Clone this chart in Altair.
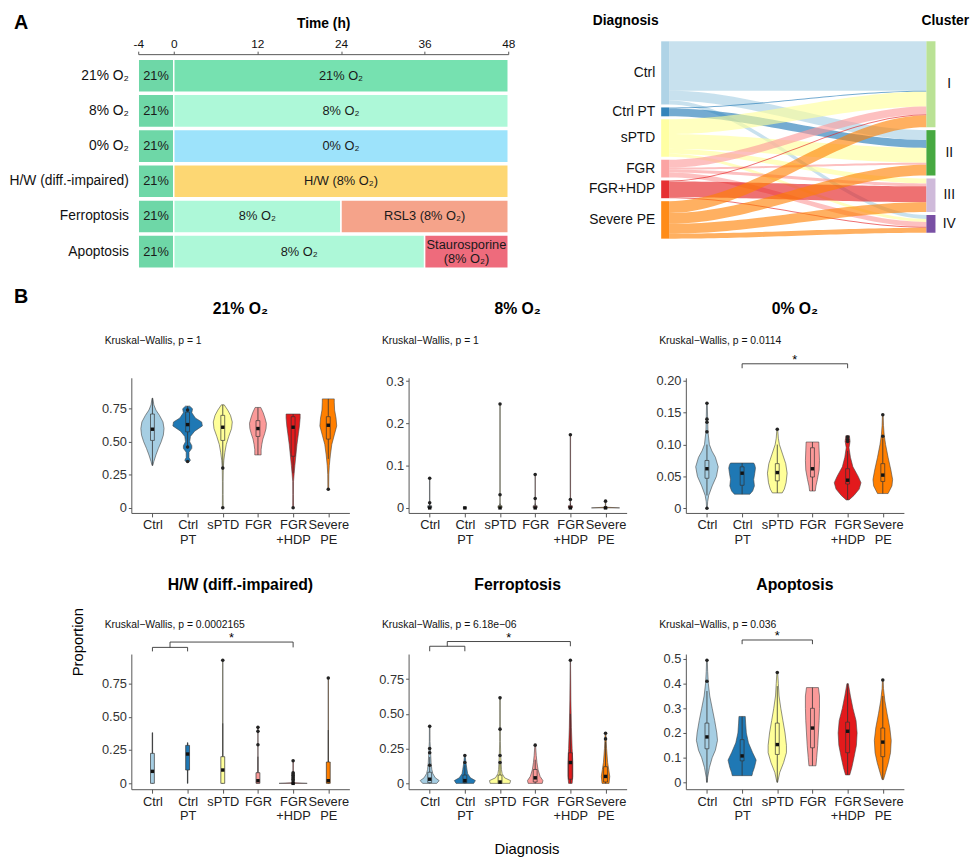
import altair as alt
import pandas as pd
import numpy as np

FONT = "Liberation Sans"

# ---------------- Panel A (left): time course ----------------
ROWS = ["21% O₂", "8% O₂", "0% O₂", "H/W (diff.-impaired)", "Ferroptosis", "Apoptosis"]
SEG_ROW = ["21% O₂", "21% O₂", "8% O₂", "8% O₂", "0% O₂", "0% O₂",
           "H/W (diff.-impaired)", "H/W (diff.-impaired)",
           "Ferroptosis", "Ferroptosis", "Ferroptosis",
           "Apoptosis", "Apoptosis", "Apoptosis"]
SEG_START = [-4, 0, -4, 0, -4, 0, -4, 0, -4, 0, 24, -4, 0, 36]
SEG_END = [0, 48, 0, 48, 0, 48, 0, 48, 0, 24, 48, 0, 36, 48]
SEG_LABEL = ["21%", "21% O₂", "21%", "8% O₂", "21%", "0% O₂", "21%", "H/W (8% O₂)",
             "21%", "8% O₂", "RSL3 (8% O₂)", "21%", "8% O₂", "Staurosporine\n(8% O₂)"]
SEG_KIND = ["pre", "21%", "pre", "8%", "pre", "0%", "pre", "HW",
            "pre", "8%", "RSL3", "pre", "8%", "Stauro"]
KINDS = ["pre", "21%", "8%", "0%", "HW", "RSL3", "Stauro"]
KIND_COLORS = ["#6ed7a7", "#76e1b0", "#adf8d8", "#9de3fb", "#fdd773", "#f5a38a", "#ee6b7c"]
TIME_TICKS = [-4, 0, 12, 24, 36, 48]

# ---------------- Panel A (right): alluvial ----------------
DIAG = ["Ctrl", "Ctrl PT", "sPTD", "FGR", "FGR+HDP", "Severe PE"]
DIAG_COLORS = ["#a6cee3", "#1f78b4", "#ffff99", "#fb9a99", "#e31a1c", "#ff7f00"]
CLUSTERS = ["I", "II", "III", "IV"]
CLUSTER_COLORS = ["#b2df8a", "#33a02c", "#cab2d6", "#6a3d9a"]
FLOW_SRC = ["Ctrl", "Ctrl", "Ctrl",
            "Ctrl PT", "Ctrl PT",
            "sPTD", "sPTD", "sPTD", "sPTD",
            "FGR", "FGR", "FGR", "FGR",
            "FGR+HDP", "FGR+HDP", "FGR+HDP",
            "Severe PE", "Severe PE", "Severe PE", "Severe PE"]
FLOW_DST = ["I", "II", "IV",
            "I", "II",
            "I", "II", "III", "IV",
            "I", "II", "III", "IV",
            "I", "III", "IV",
            "I", "II", "III", "IV"]
FLOW_N = [50, 10, 4,
          1, 8,
          15, 15, 5, 3,
          8, 2, 3, 5,
          1, 16, 1,
          12, 11, 10, 5]

# ---------------- Panel B: violins ----------------
GROUPS = ["Ctrl", "Ctrl PT", "sPTD", "FGR", "FGR+HDP", "Severe PE"]
GROUP_COLORS = ["#a6cee3", "#1f78b4", "#ffff99", "#fb9a99", "#e31a1c", "#ff7f00"]
GROUP_TICK_LINES = [["Ctrl"], ["Ctrl", "PT"], ["sPTD"], ["FGR"], ["FGR", "+HDP"], ["Severe", "PE"]]

# violin outlines: (value, half-width in category units)
V21 = {
    "Ctrl": [(0.32, 0.01), (0.35, 0.04), (0.40, 0.10), (0.45, 0.17), (0.50, 0.25), (0.55, 0.31),
             (0.60, 0.33), (0.65, 0.30), (0.70, 0.20), (0.74, 0.10), (0.78, 0.04), (0.83, 0.01)],
    "Ctrl PT": [(0.35, 0.05), (0.36, 0.08), (0.38, 0.04), (0.42, 0.04), (0.45, 0.12), (0.47, 0.12),
                (0.50, 0.06), (0.54, 0.08), (0.58, 0.20), (0.62, 0.42), (0.65, 0.40), (0.68, 0.22),
                (0.72, 0.12), (0.75, 0.14), (0.77, 0.06)],
    "sPTD": [(0.0, 0.012), (0.1, 0.01), (0.2, 0.01), (0.30, 0.015), (0.36, 0.03), (0.42, 0.06),
             (0.48, 0.10), (0.54, 0.17), (0.60, 0.25), (0.65, 0.27), (0.70, 0.22), (0.74, 0.14), (0.78, 0.04)],
    "FGR": [(0.40, 0.09), (0.44, 0.09), (0.48, 0.11), (0.52, 0.14), (0.56, 0.19), (0.60, 0.23),
            (0.64, 0.24), (0.68, 0.20), (0.72, 0.15), (0.76, 0.08)],
    "FGR+HDP": [(0.0, 0.012), (0.1, 0.01), (0.2, 0.012), (0.26, 0.03), (0.32, 0.05), (0.40, 0.08),
                (0.48, 0.11), (0.56, 0.15), (0.62, 0.18), (0.68, 0.20), (0.71, 0.20)],
    "Severe PE": [(0.14, 0.012), (0.25, 0.015), (0.32, 0.03), (0.40, 0.06), (0.48, 0.10), (0.55, 0.17),
                  (0.62, 0.24), (0.68, 0.22), (0.74, 0.18), (0.80, 0.17), (0.825, 0.17)],
}
V8 = {
    "Ctrl": [(0.0, 0.006), (0.07, 0.006)],
    "Ctrl PT": [],
    "sPTD": [(0.0, 0.006), (0.246, 0.006)],
    "FGR": [(0.0, 0.006), (0.079, 0.006)],
    "FGR+HDP": [(0.0, 0.006), (0.173, 0.006)],
    "Severe PE": [(0.0, 0.40), (0.0015, 0.05), (0.004, 0.006), (0.016, 0.006)],
}
V0 = {
    "Ctrl": [(0.0, 0.01), (0.01, 0.02), (0.02, 0.05), (0.035, 0.15), (0.05, 0.27), (0.065, 0.32),
             (0.08, 0.24), (0.09, 0.14), (0.10, 0.07), (0.12, 0.03), (0.14, 0.02), (0.165, 0.01)],
    "Ctrl PT": [(0.022, 0.22), (0.027, 0.30), (0.035, 0.35), (0.045, 0.33), (0.055, 0.36),
                (0.063, 0.38), (0.068, 0.36), (0.071, 0.33)],
    "sPTD": [(0.024, 0.14), (0.03, 0.20), (0.04, 0.25), (0.055, 0.28), (0.07, 0.24), (0.085, 0.15),
             (0.10, 0.06), (0.11, 0.03), (0.125, 0.01)],
    "FGR": [(0.027, 0.08), (0.035, 0.10), (0.045, 0.14), (0.06, 0.19), (0.075, 0.20), (0.09, 0.19), (0.104, 0.18)],
    "FGR+HDP": [(0.013, 0.04), (0.02, 0.18), (0.03, 0.33), (0.04, 0.38), (0.05, 0.30), (0.065, 0.15),
                (0.08, 0.08), (0.095, 0.04), (0.105, 0.07), (0.114, 0.05)],
    "Severe PE": [(0.023, 0.15), (0.035, 0.26), (0.045, 0.28), (0.06, 0.23), (0.08, 0.15), (0.10, 0.08),
                  (0.115, 0.04), (0.13, 0.02), (0.147, 0.01)],
}
VHW = {
    "Ctrl": [(0.0, 0.006), (0.38, 0.006)],
    "Ctrl PT": [(0.0, 0.006), (0.305, 0.006)],
    "sPTD": [(0.0, 0.006), (0.924, 0.006)],
    "FGR": [(0.0, 0.006), (0.42, 0.006)],
    "FGR+HDP": [(0.0, 0.40), (0.004, 0.05), (0.01, 0.006), (0.17, 0.006)],
    "Severe PE": [(0.0, 0.006), (0.79, 0.006)],
}
VFER = {
    "Ctrl": [(0.0, 0.20), (0.02, 0.27), (0.04, 0.16), (0.07, 0.09), (0.1, 0.06), (0.15, 0.04),
             (0.2, 0.03), (0.25, 0.02), (0.3, 0.01), (0.41, 0.008)],
    "Ctrl PT": [(0.0, 0.25), (0.02, 0.30), (0.04, 0.16), (0.07, 0.08), (0.1, 0.06), (0.15, 0.03), (0.2, 0.01)],
    "sPTD": [(0.0, 0.28), (0.02, 0.30), (0.04, 0.13), (0.07, 0.06), (0.1, 0.04), (0.15, 0.03),
             (0.2, 0.02), (0.3, 0.01), (0.615, 0.008)],
    "FGR": [(0.0, 0.20), (0.02, 0.22), (0.05, 0.14), (0.1, 0.08), (0.15, 0.05), (0.2, 0.03), (0.275, 0.01)],
    "FGR+HDP": [(0.0, 0.05), (0.05, 0.07), (0.15, 0.07), (0.25, 0.05), (0.4, 0.03), (0.6, 0.015), (0.885, 0.005)],
    "Severe PE": [(0.0, 0.10), (0.05, 0.12), (0.1, 0.09), (0.15, 0.06), (0.25, 0.03), (0.36, 0.01)],
}
VAPO = {
    "Ctrl": [(0.0, 0.01), (0.02, 0.02), (0.06, 0.07), (0.10, 0.15), (0.13, 0.24), (0.17, 0.30),
             (0.20, 0.28), (0.25, 0.22), (0.30, 0.15), (0.35, 0.08), (0.40, 0.04), (0.45, 0.02), (0.495, 0.01)],
    "Ctrl PT": [(0.027, 0.28), (0.04, 0.30), (0.06, 0.35), (0.09, 0.40), (0.12, 0.30), (0.16, 0.18),
                (0.20, 0.12), (0.24, 0.10), (0.267, 0.09)],
    "sPTD": [(0.0, 0.01), (0.04, 0.07), (0.08, 0.18), (0.12, 0.26), (0.15, 0.26), (0.20, 0.22),
             (0.25, 0.16), (0.30, 0.10), (0.35, 0.05), (0.40, 0.03), (0.447, 0.01)],
    "FGR": [(0.067, 0.10), (0.10, 0.12), (0.15, 0.15), (0.20, 0.17), (0.25, 0.19), (0.30, 0.20),
            (0.35, 0.20), (0.384, 0.17)],
    "FGR+HDP": [(0.03, 0.06), (0.06, 0.12), (0.10, 0.18), (0.15, 0.25), (0.20, 0.27), (0.25, 0.24),
                (0.30, 0.15), (0.35, 0.08), (0.40, 0.02)],
    "Severe PE": [(0.011, 0.02), (0.04, 0.08), (0.08, 0.16), (0.12, 0.22), (0.17, 0.24), (0.22, 0.20),
                  (0.28, 0.12), (0.33, 0.06), (0.38, 0.02), (0.417, 0.01)],
}

# box stats: (lower whisker, q1, median, q3, upper whisker)
B21 = {"Ctrl": (0.32, 0.51, 0.595, 0.71, 0.83), "Ctrl PT": (0.45, 0.575, 0.63, 0.725, 0.77),
       "sPTD": (0.30, 0.51, 0.61, 0.70, 0.78), "FGR": (0.40, 0.54, 0.60, 0.66, 0.76),
       "FGR+HDP": (0.26, 0.39, 0.61, 0.69, 0.71), "Severe PE": (0.37, 0.52, 0.625, 0.69, 0.825)}
B8 = {"Ctrl": (0, 0, 0, 0.005, 0.01), "Ctrl PT": (0, 0, 0, 0, 0), "sPTD": (0, 0, 0, 0.005, 0.01),
      "FGR": (0, 0, 0, 0.005, 0.01), "FGR+HDP": (0, 0, 0, 0.005, 0.01), "Severe PE": (0, 0, 0, 0, 0)}
B0 = {"Ctrl": (0.02, 0.047, 0.062, 0.075, 0.10), "Ctrl PT": (0.022, 0.036, 0.055, 0.065, 0.071),
      "sPTD": (0.024, 0.043, 0.056, 0.07, 0.10), "FGR": (0.027, 0.049, 0.062, 0.095, 0.104),
      "FGR+HDP": (0.013, 0.038, 0.044, 0.062, 0.09), "Severe PE": (0.023, 0.042, 0.052, 0.07, 0.11)}
BHW = {"Ctrl": (0, 0, 0.09, 0.225, 0.38), "Ctrl PT": (0, 0.10, 0.22, 0.285, 0.305),
       "sPTD": (0, 0, 0.10, 0.20, 0.45), "FGR": (0, 0, 0.02, 0.08, 0.20),
       "FGR+HDP": (0, 0, 0, 0, 0), "Severe PE": (0, 0, 0.02, 0.16, 0.40)}
BFER = {"Ctrl": (0, 0.005, 0.03, 0.08, 0.19), "Ctrl PT": (0, 0.005, 0.02, 0.06, 0.13),
        "sPTD": (0, 0.0, 0.01, 0.06, 0.14), "FGR": (0, 0.01, 0.04, 0.10, 0.17),
        "FGR+HDP": (0, 0.03, 0.15, 0.22, 0.50), "Severe PE": (0, 0.01, 0.05, 0.12, 0.30)}
BAPO = {"Ctrl": (0.0, 0.136, 0.184, 0.24, 0.37), "Ctrl PT": (0.027, 0.087, 0.107, 0.173, 0.267),
        "sPTD": (0.0, 0.113, 0.153, 0.24, 0.39), "FGR": (0.067, 0.14, 0.22, 0.30, 0.384),
        "FGR+HDP": (0.03, 0.12, 0.207, 0.244, 0.40), "Severe PE": (0.011, 0.104, 0.163, 0.22, 0.35)}

# outlying points
O21 = {"Ctrl": [], "Ctrl PT": [0.74, 0.46, 0.35], "sPTD": [0.30, 0.0], "FGR": [], "FGR+HDP": [0.0], "Severe PE": [0.14]}
O8 = {"Ctrl": [0.07, 0.012], "Ctrl PT": [], "sPTD": [0.246, 0.031], "FGR": [0.079, 0.022],
      "FGR+HDP": [0.173, 0.02], "Severe PE": [0.016]}
O0 = {"Ctrl": [0.165, 0.14, 0.135, 0.12, 0.0], "Ctrl PT": [], "sPTD": [0.124], "FGR": [],
      "FGR+HDP": [0.112, 0.108, 0.105], "Severe PE": [0.147, 0.113]}
OHW = {"Ctrl": [], "Ctrl PT": [], "sPTD": [0.924], "FGR": [0.42, 0.39, 0.29],
       "FGR+HDP": [0.17, 0.08, 0.07, 0.06, 0.05, 0.04, 0.03, 0.02], "Severe PE": [0.79]}
OFER = {"Ctrl": [0.41, 0.25, 0.22, 0.13], "Ctrl PT": [0.20, 0.15], "sPTD": [0.615, 0.39, 0.20, 0.15],
        "FGR": [0.275], "FGR+HDP": [0.885], "Severe PE": [0.36, 0.32]}
OAPO = {"Ctrl": [0.495, 0.41], "Ctrl PT": [], "sPTD": [0.445], "FGR": [], "FGR+HDP": [], "Severe PE": [0.415]}

# significance brackets: (x from, x to, y, drop)
K0 = [(2, 5, 0.227, 0.007)]
KHW = [(1, 2, 1.02, 0.03), (1.5, 5, 1.06, 0.04)]
KFER = [(1, 2, 0.986, 0.036), (1.5, 5, 1.02, 0.034)]
KAPO = [(2, 4, 0.577, 0.017)]

PANELS = [
    dict(title="21% O₂", kw="Kruskal−Wallis, p = 1", prof=V21, box=B21, pts=O21, br=[],
         yt=[0, 0.25, 0.5, 0.75], dec=2, dom=[-0.04, 0.985]),
    dict(title="8% O₂", kw="Kruskal−Wallis, p = 1", prof=V8, box=B8, pts=O8, br=[],
         yt=[0, 0.1, 0.2, 0.3], dec=1, dom=[-0.012, 0.308]),
    dict(title="0% O₂", kw="Kruskal−Wallis, p = 0.0114", prof=V0, box=B0, pts=O0, br=K0,
         yt=[0, 0.05, 0.1, 0.15, 0.2], dec=2, dom=[-0.0075, 0.205]),
    dict(title="H/W (diff.-impaired)", kw="Kruskal−Wallis, p = 0.0002165", prof=VHW, box=BHW, pts=OHW, br=KHW,
         yt=[0, 0.25, 0.5, 0.75], dec=2, dom=[-0.044, 0.97]),
    dict(title="Ferroptosis", kw="Kruskal−Wallis, p = 6.18e−06", prof=VFER, box=BFER, pts=OFER, br=KFER,
         yt=[0, 0.25, 0.5, 0.75], dec=2, dom=[-0.042, 0.93]),
    dict(title="Apoptosis", kw="Kruskal−Wallis, p = 0.036", prof=VAPO, box=BAPO, pts=OAPO, br=KAPO,
         yt=[0, 0.1, 0.2, 0.3, 0.4, 0.5], dec=1, dom=[-0.028, 0.52]),
]

PW, PH = 221, 137
BOX_HALF = 0.055
AX = "#555555"


def one_text(txt, x, y, **kw):
    return alt.Chart(pd.DataFrame({"t": [txt]})).mark_text(**kw).encode(
        x=alt.value(x), y=alt.value(y), text="t:N")


# ---------------- build panel A ----------------
gdf = pd.DataFrame({"row": SEG_ROW, "start": SEG_START, "end": SEG_END, "label": SEG_LABEL, "kind": SEG_KIND})
gdf["mid"] = (gdf["start"] + gdf["end"]) / 2
gx = alt.Scale(domain=[-4, 0, 48], range=[7, 43, 382], nice=False, zero=False)
gy = alt.Scale(domain=ROWS, range=[4, 218], paddingInner=0.06, paddingOuter=0.03)
gxaxis = alt.Axis(orient="top", values=TIME_TICKS, title="Time (h)", titleFontSize=14, titleFontWeight="bold",
                  titlePadding=7, labelFontSize=12, labelColor="#111", tickSize=3, tickColor=AX,
                  domainColor=AX, grid=False, labelPadding=1, labelFlush=False,
                  labelExpr="'' + datum.value")
gyaxis = alt.Axis(title=None, domain=False, ticks=False, labelFontSize=14, labelColor="#111",
                  labelPadding=3, labelLimit=300)
g_bars = alt.Chart(gdf).mark_rect(stroke="white", strokeWidth=1.5).encode(
    x=alt.X("start:Q", scale=gx, axis=gxaxis),
    x2="end:Q",
    y=alt.Y("row:N", scale=gy, sort=ROWS, axis=gyaxis),
    color=alt.Color("kind:N", scale=alt.Scale(domain=KINDS, range=KIND_COLORS), legend=None),
)
g_text1 = alt.Chart(gdf[~gdf["label"].str.contains("\n")]).mark_text(fontSize=13, color="#1a1a1a").encode(
    x=alt.X("mid:Q", scale=gx, axis=gxaxis), y=alt.Y("row:N", scale=gy, sort=ROWS, axis=gyaxis), text="label:N")
g_text2 = alt.Chart(gdf[gdf["label"].str.contains("\n")]).mark_text(
    fontSize=13, lineBreak="\n", color="#1a1a1a", dy=-7).encode(
    x=alt.X("mid:Q", scale=gx, axis=gxaxis), y=alt.Y("row:N", scale=gy, sort=ROWS, axis=gyaxis), text="label:N")
gantt = alt.layer(g_bars, g_text1, g_text2)

# ---------------- build alluvial ----------------
GAP = 3
src_tot = [sum(n for s, n in zip(FLOW_SRC, FLOW_N) if s == d) for d in DIAG]
dst_tot = [sum(n for s, n in zip(FLOW_DST, FLOW_N) if s == c) for c in CLUSTERS]
src_start, cur = [], 0
for t in src_tot:
    src_start.append(cur)
    cur += t + GAP
dst_start, cur = [], 0
for t in dst_tot:
    dst_start.append(cur)
    cur += t + GAP
flows = [(DIAG.index(s), CLUSTERS.index(d), n) for s, d, n in zip(FLOW_SRC, FLOW_DST, FLOW_N)]
src_pos, off = {}, {i: src_start[i] for i in range(len(DIAG))}
for f in sorted(flows, key=lambda f: (f[0], f[1])):
    src_pos[(f[0], f[1])] = off[f[0]]
    off[f[0]] += f[2]
dst_pos, off = {}, {i: dst_start[i] for i in range(len(CLUSTERS))}
for f in sorted(flows, key=lambda f: (f[1], f[0])):
    dst_pos[(f[0], f[1])] = off[f[1]]
    off[f[1]] += f[2]
X0, X1 = 0.029, 0.967
tt = np.linspace(0, 1, 41)
ss = tt * tt * (3 - 2 * tt)
frows = []
for k, (si, di, n) in enumerate(flows):
    a, b = src_pos[(si, di)], dst_pos[(si, di)]
    for t, s in zip(tt, ss):
        top = a + (b - a) * s
        frows.append({"fid": k, "src": DIAG[si], "x": X0 + (X1 - X0) * t, "top": top, "bot": top + n})
fdf = pd.DataFrame(frows)
nrows = []
for i, d in enumerate(DIAG):
    nrows.append({"node": d, "x0": 0.0, "x1": X0, "top": src_start[i], "bot": src_start[i] + src_tot[i],
                  "mid": src_start[i] + src_tot[i] / 2, "side": "L"})
for i, c in enumerate(CLUSTERS):
    nrows.append({"node": c, "x0": X1, "x1": 1.0, "top": dst_start[i], "bot": dst_start[i] + dst_tot[i],
                  "mid": dst_start[i] + dst_tot[i] / 2, "side": "R"})
ndf = pd.DataFrame(nrows)
sx = alt.Scale(domain=[0, 1], range=[537, 815], nice=False, zero=False)
sy = alt.Scale(domain=[0, 200], range=[-13, 187], nice=False, zero=False)
sc = alt.Scale(domain=DIAG + CLUSTERS, range=DIAG_COLORS + CLUSTER_COLORS)
s_flow = alt.Chart(fdf).mark_area(opacity=0.62).encode(
    x=alt.X("x:Q", scale=sx, axis=None), y=alt.Y("top:Q", scale=sy, axis=None), y2="bot:Q",
    color=alt.Color("src:N", scale=sc, legend=None), detail="fid:N")
s_node = alt.Chart(ndf).mark_rect(opacity=0.9).encode(
    x=alt.X("x0:Q", scale=sx, axis=None), x2="x1:Q", y=alt.Y("top:Q", scale=sy, axis=None), y2="bot:Q",
    color=alt.Color("node:N", scale=sc, legend=None))
s_lab_l = alt.Chart(ndf[ndf.side == "L"]).mark_text(align="right", dx=-6, fontSize=14, color="#111").encode(
    x=alt.X("x0:Q", scale=sx, axis=None), y=alt.Y("mid:Q", scale=sy, axis=None), text="node:N")
s_lab_r = alt.Chart(ndf[ndf.side == "R"]).mark_text(align="center", dx=14, fontSize=14, color="#111").encode(
    x=alt.X("x1:Q", scale=sx, axis=None), y=alt.Y("mid:Q", scale=sy, axis=None), text="node:N")
hdr_d = one_text("Diagnosis", 501, -34, fontSize=14, fontWeight="bold", align="center", baseline="middle")
hdr_c = one_text("Cluster", 825, -34, fontSize=14, fontWeight="bold", align="center", baseline="middle")
lab_a = one_text("A", -119, -31, fontSize=20, fontWeight="bold", align="left", baseline="middle")
sankey = alt.layer(s_flow, s_node, s_lab_l, s_lab_r, hdr_d, hdr_c, lab_a)

top = alt.layer(gantt, sankey).resolve_scale(x="independent", y="independent", color="independent").properties(
    width=815, height=218)

# ---------------- build panel B ----------------
label_expr = "[" + ",".join("[" + ",".join("'%s'" % s for s in lines) + "]" for lines in GROUP_TICK_LINES) + "][datum.value - 1]"
gcol = alt.Scale(domain=GROUPS, range=GROUP_COLORS)


def violin_panel(p, kw_y, extra):
    vrows, brows, prow, krows = [], [], [], []
    for gi, g in enumerate(GROUPS):
        c = gi + 1
        for yv, w in p["prof"][g]:
            vrows.append({"group": g, "y": yv, "xl": c - w, "xr": c + w})
        lo, q1, md, q3, hi = p["box"][g]
        brows.append({"group": g, "pos": c, "lo": lo, "q1": q1, "med": md, "q3": q3, "hi": hi,
                      "bl": c - BOX_HALF, "br": c + BOX_HALF})
        for v in p["pts"][g]:
            prow.append({"group": g, "pos": c, "v": v})
    stars = []
    for (xa, xb, yy, dr) in p["br"]:
        krows.append({"x": xa, "x2": xb, "by": yy, "by2": yy})
        krows.append({"x": xa, "x2": xa, "by": yy, "by2": yy - dr})
        krows.append({"x": xb, "x2": xb, "by": yy, "by2": yy - dr})
    if p["br"]:
        xa, xb, yy, dr = p["br"][-1]
        stars.append({"x": (xa + xb) / 2, "by": yy, "s": "*"})
    vdf, bdf, pdf_ = pd.DataFrame(vrows), pd.DataFrame(brows), pd.DataFrame(prow)
    xs = alt.Scale(domain=[0.4, 6.6], nice=False, zero=False)
    ys = alt.Scale(domain=p["dom"], nice=False, zero=False)
    fmt = ".%df" % p["dec"]
    xa_ = alt.Axis(values=[1, 2, 3, 4, 5, 6], labelExpr=label_expr, title=None, grid=False,
                   tickSize=4, labelFontSize=13, labelColor="#222", domainColor=AX, tickColor=AX,
                   labelPadding=2, labelLineHeight=15, labelFlush=False, labelOverlap=False)
    ya_ = alt.Axis(values=p["yt"],
                   labelExpr="datum.value == 0 ? '0' : format(datum.value, '%s')" % fmt,
                   title=None, grid=False, tickSize=3, labelFontSize=13, labelColor="#333",
                   domainColor=AX, tickColor=AX, labelPadding=2, labelOverlap=False)

    def X(f):
        return alt.X(f, scale=xs, axis=xa_)

    def Y(f):
        return alt.Y(f, scale=ys, axis=ya_)

    layers = []
    layers.append(alt.Chart(vdf).mark_area(orient="horizontal", stroke="#444", strokeWidth=0.6, opacity=1).encode(
        y=Y("y:Q"), x=X("xl:Q"), x2="xr:Q",
        color=alt.Color("group:N", scale=gcol, legend=None), detail="group:N"))
    layers.append(alt.Chart(bdf).mark_rule(color="#333", strokeWidth=0.8).encode(
        x=X("pos:Q"), y=Y("lo:Q"), y2="q1:Q"))
    layers.append(alt.Chart(bdf).mark_rule(color="#333", strokeWidth=0.8).encode(
        x=X("pos:Q"), y=Y("q3:Q"), y2="hi:Q"))
    layers.append(alt.Chart(bdf).mark_rect(stroke="#333", strokeWidth=0.7).encode(
        x=X("bl:Q"), x2="br:Q", y=Y("q1:Q"), y2="q3:Q",
        color=alt.Color("group:N", scale=gcol, legend=None)))
    if len(pdf_):
        layers.append(alt.Chart(pdf_).mark_circle(size=13, color="#222", opacity=1).encode(
            x=X("pos:Q"), y=Y("v:Q")))
    layers.append(alt.Chart(bdf).mark_square(size=12, color="#111", opacity=1).encode(
        x=X("pos:Q"), y=Y("med:Q")))
    if krows:
        layers.append(alt.Chart(pd.DataFrame(krows)).mark_rule(color="#333", strokeWidth=0.9).encode(
            x=X("x:Q"), x2="x2:Q", y=Y("by:Q"), y2="by2:Q"))
        layers.append(alt.Chart(pd.DataFrame(stars)).mark_text(fontSize=13, dy=-4, baseline="middle").encode(
            x=X("x:Q"), y=Y("by:Q"), text="s:N"))
    layers.append(one_text(p["title"], PW / 2, -70, fontSize=16, fontWeight="bold", align="center", baseline="middle"))
    layers.append(one_text(p["kw"], -27, kw_y, fontSize=10.5, align="left", baseline="middle", color="#111"))
    layers.extend(extra)
    return alt.layer(*layers).properties(width=PW, height=PH)


panels = []
for i, p in enumerate(PANELS):
    extra = []
    if i == 0:
        extra.append(one_text("B", -119, -82, fontSize=20, fontWeight="bold", align="left", baseline="middle"))
    if i == 3:
        extra.append(one_text("Proportion", -54, -12, fontSize=15, angle=270, align="center", baseline="middle"))
    if i == 4:
        extra.append(one_text("Diagnosis", 120, 198, fontSize=15, align="center", baseline="middle"))
    panels.append(violin_panel(p, -37 if i < 3 else -29, extra))

grid = alt.concat(*panels, columns=3, spacing={"row": 31, "column": 29})

chart = alt.vconcat(top, grid, spacing=18).properties(padding=0).configure(
    font=FONT).configure_view(stroke=None).configure_axis(labelFont=FONT, titleFont=FONT, labelOverlap=False)

chart.save("out.html", embed_options={"renderer": "svg", "actions": False})
